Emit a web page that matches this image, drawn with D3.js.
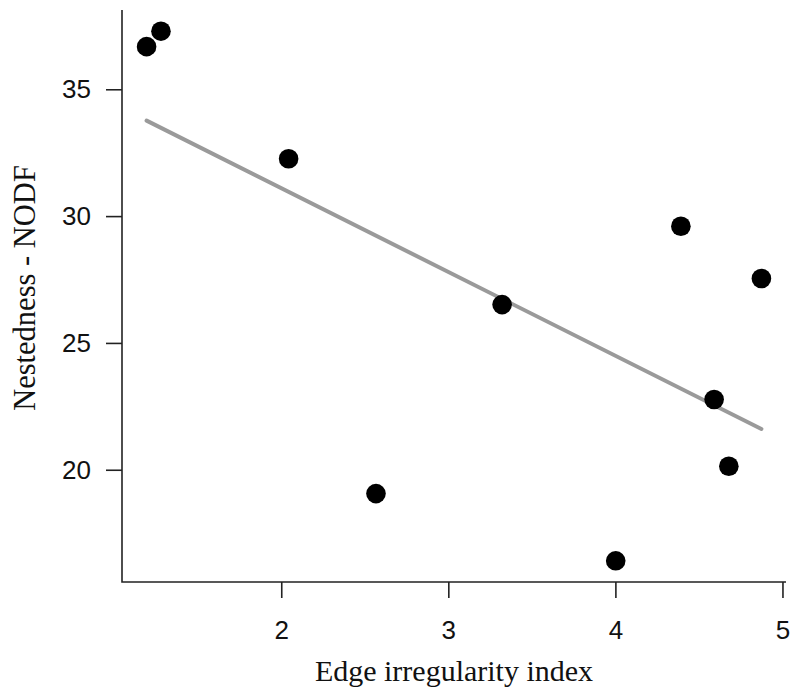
<!DOCTYPE html>
<html>
<head>
<meta charset="utf-8">
<script src="https://cdn.jsdelivr.net/npm/d3@7"></script>
<style>
  html, body { margin: 0; padding: 0; background: #ffffff; }
  svg { display: block; }
</style>
</head>
<body>
<svg id="chart" width="790" height="695"></svg>
<script>
// Edge irregularity index (x) vs. nestedness NODF (y), one value per network
const edgeIrregularity = [1.194, 1.280, 2.044, 3.322, 2.567, 4.002, 4.392, 4.591, 4.679, 4.874];
const nestednessNODF   = [36.68, 37.29, 32.26, 26.51, 19.06, 16.41, 29.60, 22.77, 20.14, 27.54];
const xTickValues = [2, 3, 4, 5];
const yTickValues = [20, 25, 30, 35];
const xTitle = "Edge irregularity index";
const yTitle = "Nestedness - NODF";

const svg = d3.select("#chart");
const plot = { left: 122, right: 786, top: 10, bottom: 582 };

// Axis ranges padded by 4% of the data range on each side
function padded(values) {
  const [lo, hi] = d3.extent(values);
  const pad = (hi - lo) * 0.04;
  return [lo - pad, hi + pad];
}

const x = d3.scaleLinear().domain(padded(edgeIrregularity)).range([plot.left, plot.right]);
const y = d3.scaleLinear().domain(padded(nestednessNODF)).range([plot.bottom, plot.top]);

// Least-squares fit of nestedness on edge irregularity
const mx = d3.mean(edgeIrregularity), my = d3.mean(nestednessNODF);
let sxy = 0, sxx = 0;
edgeIrregularity.forEach((xi, i) => {
  sxy += (xi - mx) * (nestednessNODF[i] - my);
  sxx += (xi - mx) * (xi - mx);
});
const slope = sxy / sxx;
const intercept = my - slope * mx;
const [fitX0, fitX1] = d3.extent(edgeIrregularity);

// L-shaped frame
svg.append("path")
  .attr("d", `M${plot.left},${plot.top}V${plot.bottom}H${plot.right}`)
  .attr("fill", "none")
  .attr("stroke", "#222")
  .attr("stroke-width", 1.6);

const tickFont = "'Liberation Sans', Arial, Helvetica, sans-serif";

const gx = svg.append("g")
  .attr("transform", `translate(0,${plot.bottom})`)
  .call(d3.axisBottom(x).tickValues(xTickValues).tickFormat(d3.format("d")).tickSize(16).tickPadding(22.5));
const gy = svg.append("g")
  .attr("transform", `translate(${plot.left},0)`)
  .call(d3.axisLeft(y).tickValues(yTickValues).tickFormat(d3.format("d")).tickSize(16).tickPadding(15));

[gx, gy].forEach(g => {
  g.select(".domain").remove();
  g.selectAll(".tick line").attr("stroke", "#222").attr("stroke-width", 1.6);
  g.selectAll(".tick text")
    .attr("fill", "#111")
    .style("font-family", tickFont)
    .style("font-size", "26px");
});

// Regression line
svg.append("line")
  .attr("x1", x(fitX0)).attr("y1", y(intercept + slope * fitX0))
  .attr("x2", x(fitX1)).attr("y2", y(intercept + slope * fitX1))
  .attr("stroke", "#9a9a9a")
  .attr("stroke-width", 4)
  .attr("stroke-linecap", "round");

// Observations
svg.append("g")
  .selectAll("circle")
  .data(edgeIrregularity.map((xi, i) => [xi, nestednessNODF[i]]))
  .join("circle")
  .attr("cx", d => x(d[0]))
  .attr("cy", d => y(d[1]))
  .attr("r", 9.8)
  .attr("fill", "#000");

// Axis titles
const titleFont = "'Liberation Serif', 'Times New Roman', Times, serif";
svg.append("text")
  .attr("x", (plot.left + plot.right) / 2)
  .attr("y", 681)
  .attr("text-anchor", "middle")
  .style("font-family", titleFont)
  .style("font-size", "30px")
  .attr("fill", "#111")
  .text(xTitle);

svg.append("text")
  .attr("transform", "translate(35,288) rotate(-90)")
  .attr("text-anchor", "middle")
  .style("font-family", titleFont)
  .style("font-size", "30.5px")
  .attr("fill", "#111")
  .text(yTitle);
</script>
</body>
</html>
